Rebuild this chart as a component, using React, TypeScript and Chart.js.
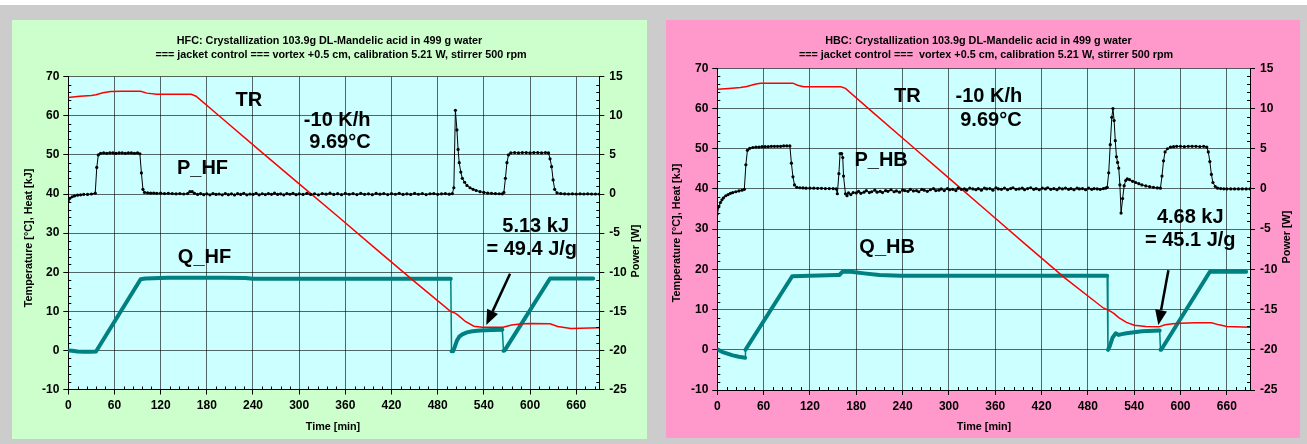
import React, { useEffect, useRef } from "react";
import { Chart, registerables } from "chart.js";

Chart.register(...registerables);

const FONT = '"Liberation Sans", Arial, sans-serif';

// ---- axes ----
const TIME_MAX = 690;
const TIME_STEP = 60;
const LEFT_AXIS = { min: -10, max: 70, step: 10, minor: 2 };
const RIGHT_AXIS = { min: -25, max: 15, step: 5, minor: 1 };

// ---- HFC run: [time min, value] ----
const HFC_TR: number[][] = [
  [0, 64.7], [15, 65.0], [30, 65.2], [36, 65.4], [45, 65.9], [55, 66.2], [70, 66.3], [94, 66.3],
  [102, 65.8], [115, 65.5], [160, 65.5], [166, 65.0], [200, 59.3], [250, 50.9], [300, 42.6],
  [350, 34.3], [400, 25.9], [450, 17.6], [497, 9.9], [502, 9.6], [506, 9.1], [516, 7.4],
  [527, 6.2], [538, 5.9], [565, 5.9], [576, 6.5], [590, 6.8], [601, 6.9], [626, 6.8],
  [636, 6.1], [653, 5.6], [690, 5.8],
];
const HFC_P: number[][] = [
  [0, -0.9], [2, -0.55], [5, -0.35], [8, -0.25], [12, -0.15], [16, -0.1], [20, -0.05], [25, -0.05],
  [30, 0.0], [35, 0.1], [37, 3.4], [39, 5.0], [42, 5.2], [46, 5.25], [50, 5.2], [54, 5.25],
  [58, 5.25], [62, 5.2], [66, 5.25], [70, 5.25], [74, 5.2], [78, 5.25], [82, 5.25], [86, 5.2],
  [90, 5.25], [93, 5.15], [95, 2.7], [97, 0.6], [99, 0.2], [103, 0.15], [107, 0.1], [111, 0.12],
  [115, 0.08], [120, 0.1], [125, 0.05], [130, 0.08], [135, 0.05], [140, 0.02], [145, 0.05],
  [150, 0.0], [155, 0.05], [158, 0.3], [161, 0.3], [164, 0.08], [168, -0.05], [172, 0.05],
  [176, -0.08], [180, 0.02], [184, -0.1], [188, 0.06], [192, -0.05], [196, 0.0], [200, -0.1],
  [204, 0.05], [208, -0.08], [212, 0.02], [216, -0.12], [220, 0.04], [224, -0.06], [228, 0.08],
  [232, -0.1], [236, 0.0], [240, -0.05], [244, 0.08], [248, -0.1], [252, 0.03], [256, -0.07],
  [260, 0.06], [264, -0.04], [268, 0.1], [272, -0.06], [276, 0.02], [280, -0.1], [284, 0.05],
  [288, -0.03], [292, 0.08], [296, -0.08], [300, 0.02], [305, -0.05], [310, 0.08], [315, -0.06],
  [320, 0.03], [325, -0.1], [330, 0.06], [335, -0.02], [340, 0.1], [345, -0.06], [350, 0.04],
  [355, -0.08], [360, 0.07], [365, -0.03], [370, 0.05], [375, -0.07], [380, 0.08], [385, -0.04],
  [390, 0.02], [395, -0.08], [400, 0.07], [405, -0.02], [410, 0.06], [415, -0.07], [420, 0.04],
  [425, -0.03], [430, 0.08], [435, -0.06], [440, 0.02], [445, -0.05], [450, 0.07], [455, -0.03],
  [460, 0.05], [465, -0.07], [470, 0.03], [475, 0.06], [480, -0.04], [485, 0.02], [490, 0.05],
  [495, -0.02], [499, 0.05], [501, 0.8], [503, 10.7], [505, 8.2], [506.5, 5.7], [508, 4.0],
  [510, 2.8], [512, 2.0], [515, 1.5], [518, 1.1], [522, 0.8], [526, 0.6], [530, 0.45], [535, 0.3],
  [540, 0.2], [545, 0.12], [550, 0.08], [555, 0.05], [560, 0.03], [564, 0.02], [566, 0.2],
  [568, 2.0], [570, 4.0], [572, 5.0], [575, 5.25], [580, 5.3], [585, 5.25], [590, 5.3], [595, 5.3],
  [600, 5.25], [605, 5.3], [610, 5.3], [615, 5.25], [620, 5.3], [624, 5.25], [626, 4.5], [628, 3.5],
  [630, 1.8], [632, 0.6], [635, 0.15], [640, 0.05], [645, 0.02], [650, 0.0], [655, 0.02], [660, 0.0],
  [665, 0.02], [670, 0.0], [675, 0.02], [680, 0.0], [685, 0.0], [690, 0.0],
];
const HFC_Q: number[][] = [
  [0, 0.0], [5, -0.1], [12, -0.3], [20, -0.35], [30, -0.35], [36, -0.3], [94, 18.2], [100, 18.4],
  [130, 18.6], [200, 18.6], [230, 18.5], [240, 18.3], [497, 18.3], [498, -0.2], [500, -0.2],
  [502, 0.8], [505, 2.5], [508, 3.5], [512, 4.1], [518, 4.6], [525, 4.9], [535, 5.1], [550, 5.2],
  [564, 5.3], [565.5, -0.1], [567, 0.0], [626, 18.4], [682, 18.4],
];

// ---- HBC run: [time min, value] ----
const HBC_TR: number[][] = [
  [0, 64.8], [15, 65.0], [30, 65.2], [38, 65.5], [50, 66.1], [56, 66.3], [98, 66.3], [104, 65.8],
  [112, 65.4], [160, 65.4], [166, 65.0], [200, 59.3], [250, 51.0], [300, 42.7], [350, 34.4],
  [400, 26.1], [450, 17.9], [500, 10.4], [505, 10.0], [510, 9.5], [514, 9.0], [520, 8.0],
  [530, 6.8], [540, 6.1], [555, 5.8], [572, 5.7], [580, 6.2], [590, 6.5], [600, 6.6], [620, 6.7],
  [640, 6.7], [650, 6.2], [660, 5.8], [690, 5.6],
];
const HBC_P: number[][] = [
  [0, -3.1], [2, -2.2], [4, -1.7], [6, -1.35], [8, -1.1], [11, -0.85], [14, -0.7], [17, -0.55],
  [20, -0.45], [24, -0.35], [28, -0.25], [32, -0.15], [35, -0.05], [37, 3.0], [39, 4.8], [42, 5.05],
  [46, 5.15], [50, 5.2], [54, 5.2], [58, 5.25], [62, 5.25], [66, 5.25], [70, 5.3], [74, 5.3],
  [78, 5.3], [82, 5.3], [86, 5.35], [90, 5.35], [94, 5.35], [96, 3.2], [98, 1.5], [100, 0.5],
  [103, 0.2], [107, 0.15], [111, 0.12], [115, 0.1], [120, 0.1], [125, 0.1], [130, 0.08], [135, 0.08],
  [140, 0.05], [145, 0.05], [150, 0.05], [154, 0.0], [155.5, -0.6], [157.5, 1.9], [159, 4.4],
  [161, 4.4], [162.5, 3.9], [163.5, 1.6], [166, -0.6], [168, -0.85], [170, -0.5], [173, -0.7],
  [176, -0.45], [180, -0.5], [183, -0.3], [186, -0.55], [190, -0.4], [193, -0.2], [197, -0.45],
  [200, -0.35], [204, -0.15], [207, -0.4], [211, -0.3], [214, -0.45], [218, -0.2], [221, -0.3],
  [225, -0.1], [229, -0.35], [232, -0.25], [236, -0.4], [240, -0.15], [243, -0.2], [247, -0.3],
  [250, -0.05], [254, -0.25], [258, -0.2], [261, -0.35], [265, -0.05], [268, -0.15], [272, -0.3],
  [276, -0.1], [280, 0.05], [283, -0.2], [287, -0.15], [290, 0.0], [294, -0.2], [298, 0.05],
  [301, -0.1], [305, -0.05], [309, -0.2], [312, 0.1], [316, -0.05], [320, 0.0], [323, -0.15],
  [327, 0.1], [331, 0.0], [335, -0.1], [338, 0.05], [342, -0.15], [346, 0.1], [349, 0.0],
  [353, 0.05], [357, -0.15], [361, 0.15], [364, 0.0], [368, -0.05], [372, 0.1], [376, -0.1],
  [380, 0.05], [383, 0.15], [387, -0.05], [391, 0.0], [395, 0.1], [398, -0.1], [402, 0.05],
  [406, 0.15], [410, -0.05], [413, 0.05], [417, -0.1], [421, 0.1], [425, 0.0], [428, 0.15],
  [432, -0.05], [436, 0.05], [440, -0.1], [443, 0.1], [447, 0.0], [451, 0.1], [455, -0.05],
  [458, 0.05], [462, -0.1], [466, 0.1], [469, 0.0], [473, 0.05], [477, -0.1], [481, 0.1],
  [485, -0.05], [488, 0.05], [492, 0.0], [496, -0.05], [500, 0.05], [503, 0.1], [505, 0.2],
  [507, 2.0], [509, 5.5], [511, 8.9], [512.5, 10.0], [514, 8.5], [515.5, 6.0], [517, 4.0],
  [518.5, 3.3], [520, 2.6], [521.5, 0.5], [523, -3.0], [525, -1.2], [527, 0.4], [529, 1.05],
  [531, 1.25], [534, 1.15], [538, 0.95], [542, 0.8], [546, 0.65], [550, 0.5], [555, 0.38],
  [560, 0.28], [565, 0.2], [570, 0.12], [574, 0.1], [576, 1.6], [578, 3.5], [580, 4.6], [583, 5.0],
  [587, 5.2], [591, 5.25], [595, 5.3], [600, 5.3], [605, 5.25], [610, 5.3], [615, 5.3], [620, 5.3],
  [625, 5.25], [630, 5.3], [634, 5.2], [636, 4.6], [638, 3.4], [640, 1.8], [642, 0.8], [645, 0.3],
  [648, 0.1], [652, 0.05], [656, 0.02], [660, 0.0], [665, 0.0], [670, 0.0], [675, 0.0], [680, 0.0],
  [685, 0.0], [690, 0.0],
];
const HBC_Q: number[][] = [
  [0, 0.1], [6, -0.5], [12, -0.9], [20, -1.4], [28, -1.75], [34, -1.9], [36, -2.0], [36.5, 0.0],
  [97, 18.3], [120, 18.4], [155, 18.6], [158, 18.6], [162, 19.4], [173, 19.4], [190, 19.0],
  [210, 18.6], [238, 18.4], [505, 18.4], [506, 0.0], [508, 0.75], [512, 3.0], [516, 4.1],
  [520, 3.7], [524, 3.9], [530, 4.1], [550, 4.6], [573, 4.8], [574, 0.0], [575, 0.0], [638, 19.4],
  [685, 19.4],
];

// ---- captions ----
const HFC_TITLE = [
  "HFC: Crystallization 103.9g DL-Mandelic acid in 499 g water",
  "=== jacket control === vortex +0.5 cm, calibration 5.21 W, stirrer 500 rpm",
];
const HBC_TITLE = [
  "HBC: Crystallization 103.9g DL-Mandelic acid in 499 g water",
  "=== jacket control ===  vortex +0.5 cm, calibration 5.21 W, stirrer 500 rpm",
];
const Y_LEFT_TITLE = "Temperature [°C], Heat [kJ]";
const Y_RIGHT_TITLE = "Power [W]";
const X_TITLE = "Time [min]";

type Note = { text: string; t: number; v: number };
type Arrow = { from: [number, number]; to: [number, number] };

const HFC_NOTES: Note[] = [
  { text: "TR", t: 234.7, v: 63.8 },
  { text: "-10 K/h", t: 349.4, v: 58.9 },
  { text: "9.69°C", t: 353, v: 53.3 },
  { text: "P_HF", t: 174.4, v: 46.6 },
  { text: "Q_HF", t: 177, v: 23.8 },
  { text: "5.13 kJ", t: 607.3, v: 31.8 },
  { text: "= 49.4 J/g", t: 602.2, v: 25.8 },
];
const HBC_NOTES: Note[] = [
  { text: "TR", t: 246.1, v: 62.9 },
  { text: "-10 K/h", t: 351.8, v: 62.9 },
  { text: "9.69°C", t: 354.4, v: 57.1 },
  { text: "P_HB", t: 212.2, v: 47.2 },
  { text: "Q_HB", t: 220, v: 25.5 },
  { text: "4.68 kJ", t: 612.6, v: 33.0 },
  { text: "= 45.1 J/g", t: 612.6, v: 27.3 },
];
const HFC_ARROW: Arrow = { from: [574, 19.6], to: [543.1, 6.5] };
const HBC_ARROW: Arrow = { from: [584.3, 19.8], to: [571.3, 6.15] };

type PanelCfg = {
  width: number;
  height: number;
  area: { left: number; top: number; right: number; bottom: number };
  title: string[];
  titleX: number[];
  titleY: number[];
  leftTitle: [number, number];
  rightTitle: [number, number];
  xTitle: [number, number];
  tr: number[][];
  p: number[][];
  q: number[][];
  notes: Note[];
  arrow: Arrow;
};

const HFC_PANEL: PanelCfg = {
  width: 635,
  height: 419,
  area: { left: 56.3, top: 56.7, right: 587.3, bottom: 369.5 },
  title: HFC_TITLE,
  titleX: [317.5, 329],
  titleY: [21.5, 35],
  leftTitle: [17, 218],
  rightTitle: [624, 231],
  xTitle: [321, 407],
  tr: HFC_TR,
  p: HFC_P,
  q: HFC_Q,
  notes: HFC_NOTES,
  arrow: HFC_ARROW,
};

const HBC_PANEL: PanelCfg = {
  width: 634,
  height: 418,
  area: { left: 51.3, top: 48.3, right: 584, bottom: 370 },
  title: HBC_TITLE,
  titleX: [312.5, 320],
  titleY: [21.5, 35],
  leftTitle: [11, 213],
  rightTitle: [621, 217],
  xTitle: [318, 407],
  tr: HBC_TR,
  p: HBC_P,
  q: HBC_Q,
  notes: HBC_NOTES,
  arrow: HBC_ARROW,
};

const toXY = (rows: number[][]) => rows.map(([x, y]) => ({ x, y }));

const decoPlugin = {
  id: "deco",
  beforeDraw(chart: any) {
    const { ctx, chartArea: a } = chart;
    ctx.save();
    ctx.fillStyle = "#ccffff";
    ctx.fillRect(a.left, a.top, a.right - a.left, a.bottom - a.top);
    ctx.restore();
  },
  afterDatasetsDraw(chart: any, _a: any, cfg: PanelCfg) {
    const { ctx, scales } = chart;
    const xs = scales.x;
    const ys = scales.y;
    ctx.save();
    ctx.fillStyle = "#000";
    ctx.font = `bold 20px ${FONT}`;
    ctx.textAlign = "center";
    ctx.textBaseline = "middle";
    for (const n of cfg.notes) {
      ctx.fillText(n.text, xs.getPixelForValue(n.t), ys.getPixelForValue(n.v));
    }
    // arrow pointing at the plateau
    const x0 = xs.getPixelForValue(cfg.arrow.from[0]);
    const y0 = ys.getPixelForValue(cfg.arrow.from[1]);
    const x1 = xs.getPixelForValue(cfg.arrow.to[0]);
    const y1 = ys.getPixelForValue(cfg.arrow.to[1]);
    const ang = Math.atan2(y1 - y0, x1 - x0);
    const headLen = 15;
    const headW = 6;
    const bx = x1 - headLen * Math.cos(ang);
    const by = y1 - headLen * Math.sin(ang);
    ctx.strokeStyle = "#000";
    ctx.lineWidth = 2.5;
    ctx.beginPath();
    ctx.moveTo(x0, y0);
    ctx.lineTo(bx, by);
    ctx.stroke();
    ctx.beginPath();
    ctx.moveTo(x1, y1);
    ctx.lineTo(bx + headW * Math.sin(ang), by - headW * Math.cos(ang));
    ctx.lineTo(bx - headW * Math.sin(ang), by + headW * Math.cos(ang));
    ctx.closePath();
    ctx.fill();
    ctx.restore();
  },
  afterDraw(chart: any, _a: any, cfg: PanelCfg) {
    const { ctx, chartArea: a, scales } = chart;
    ctx.save();
    ctx.fillStyle = "#000";
    ctx.strokeStyle = "#000";
    ctx.lineWidth = 1;
    // minor ticks, inside the frame
    ctx.beginPath();
    for (let v = LEFT_AXIS.min; v <= LEFT_AXIS.max; v += LEFT_AXIS.minor) {
      if (v % LEFT_AXIS.step === 0) continue;
      const y = Math.round(scales.y.getPixelForValue(v)) + 0.5;
      ctx.moveTo(a.left, y);
      ctx.lineTo(a.left + 3, y);
    }
    for (let v = RIGHT_AXIS.min; v <= RIGHT_AXIS.max; v += RIGHT_AXIS.minor) {
      if (v % RIGHT_AXIS.step === 0) continue;
      const y = Math.round(scales.y2.getPixelForValue(v)) + 0.5;
      ctx.moveTo(a.right, y);
      ctx.lineTo(a.right - 3, y);
    }
    for (let t = 0; t <= TIME_MAX; t += TIME_STEP / 5) {
      if (t % TIME_STEP === 0) continue;
      const x = Math.round(scales.x.getPixelForValue(t)) + 0.5;
      ctx.moveTo(x, a.bottom);
      ctx.lineTo(x, a.bottom - 3);
    }
    ctx.stroke();

    // chart title
    ctx.textAlign = "center";
    ctx.textBaseline = "middle";
    ctx.font = `bold 10.8px ${FONT}`;
    cfg.title.forEach((line, i) => ctx.fillText(line, cfg.titleX[i], cfg.titleY[i]));

    // axis titles
    ctx.save();
    ctx.translate(cfg.leftTitle[0], cfg.leftTitle[1]);
    ctx.rotate(-Math.PI / 2);
    ctx.fillText(Y_LEFT_TITLE, 0, 0);
    ctx.restore();
    ctx.save();
    ctx.translate(cfg.rightTitle[0], cfg.rightTitle[1]);
    ctx.rotate(-Math.PI / 2);
    ctx.fillText(Y_RIGHT_TITLE, 0, 0);
    ctx.restore();
    ctx.fillText(X_TITLE, cfg.xTitle[0], cfg.xTitle[1]);
    ctx.restore();
  },
};

function buildChart(canvas: HTMLCanvasElement, cfg: PanelCfg) {
  const tickFont = { family: FONT, size: 12, weight: "bold" as const };
  const steep = (c: any) =>
    Math.abs(c.p1.parsed.y - c.p0.parsed.y) / Math.max(1e-6, c.p1.parsed.x - c.p0.parsed.x) > 3;
  return new Chart(canvas, {
    type: "line",
    data: {
      datasets: [
        {
          data: toXY(cfg.p),
          yAxisID: "y2",
          borderColor: "#000",
          borderWidth: 1,
          pointRadius: 1.6,
          pointBackgroundColor: "#000",
          pointBorderWidth: 0,
          tension: 0,
        },
        {
          data: toXY(cfg.tr),
          yAxisID: "y",
          borderColor: "#ff0000",
          borderWidth: 1.5,
          pointRadius: 0,
          tension: 0,
        },
        {
          data: toXY(cfg.q),
          yAxisID: "y",
          borderColor: "#008080",
          borderWidth: 4,
          borderJoinStyle: "round",
          borderCapStyle: "round",
          pointRadius: 0,
          tension: 0,
          segment: { borderWidth: (c: any) => (steep(c) ? 1.5 : 4) },
        },
      ],
    },
    options: {
      responsive: false,
      animation: false,
      devicePixelRatio: 1,
      events: [],
      layout: { padding: { top: cfg.area.top, left: 0, right: 0, bottom: 0 } },
      plugins: {
        legend: { display: false },
        tooltip: { enabled: false },
        title: { display: false },
        deco: cfg,
      } as any,
      scales: {
        x: {
          type: "linear",
          min: 0,
          max: TIME_MAX,
          afterFit: (s: any) => {
            s.height = cfg.height - cfg.area.bottom;
          },
          ticks: {
            stepSize: TIME_STEP,
            includeBounds: false,
            font: tickFont,
            color: "#000",
            padding: 4,
            maxRotation: 0,
            autoSkip: false,
          },
          grid: { color: "rgba(0,0,0,0.6)", tickLength: 5, tickColor: "#000", lineWidth: 1 },
          border: { color: "#000", width: 1 },
        },
        y: {
          type: "linear",
          position: "left",
          min: LEFT_AXIS.min,
          max: LEFT_AXIS.max,
          afterFit: (s: any) => {
            s.width = cfg.area.left;
          },
          ticks: { stepSize: LEFT_AXIS.step, font: tickFont, color: "#000", padding: 4 },
          grid: { color: "rgba(0,0,0,0.6)", tickLength: 5, tickColor: "#000", lineWidth: 1 },
          border: { color: "#000", width: 1 },
        },
        y2: {
          type: "linear",
          position: "right",
          min: RIGHT_AXIS.min,
          max: RIGHT_AXIS.max,
          afterFit: (s: any) => {
            s.width = cfg.width - cfg.area.right;
          },
          ticks: { stepSize: RIGHT_AXIS.step, font: tickFont, color: "#000", padding: 5 },
          grid: { drawOnChartArea: false, tickLength: 5, tickColor: "#000" },
          border: { color: "#000", width: 1 },
        },
      },
    } as any,
    plugins: [decoPlugin as any],
  });
}

export default function App() {
  const leftRef = useRef<HTMLCanvasElement>(null);
  const rightRef = useRef<HTMLCanvasElement>(null);

  useEffect(() => {
    const a = buildChart(leftRef.current!, HFC_PANEL);
    const b = buildChart(rightRef.current!, HBC_PANEL);
    return () => {
      a.destroy();
      b.destroy();
    };
  }, []);

  return (
    <div
      style={{
        position: "fixed",
        left: 0,
        top: 0,
        width: 1307,
        height: 444,
        background: "#cccccc",
        overflow: "hidden",
      }}
    >
      <div style={{ position: "absolute", left: 0, top: 0, width: 1307, height: 5, background: "#ffffff" }} />
      <div style={{ position: "absolute", left: 12, top: 20, width: 635, height: 419, background: "#ccffcc" }}>
        <canvas ref={leftRef} width={635} height={419} style={{ display: "block" }} />
      </div>
      <div style={{ position: "absolute", left: 666, top: 20, width: 634, height: 418, background: "#ff99cc" }}>
        <canvas ref={rightRef} width={634} height={418} style={{ display: "block" }} />
      </div>
    </div>
  );
}
